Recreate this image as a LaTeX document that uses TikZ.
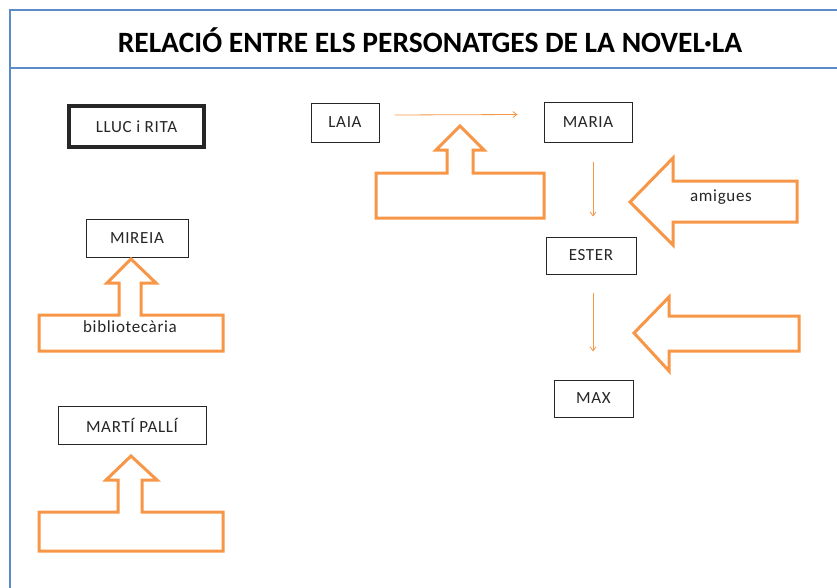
\documentclass[tikz,border=0pt]{standalone}
\usepackage{fontspec}
\setmainfont{Carlito}
\newfontfamily\boxfont[LetterSpace=4]{Carlito}
\usetikzlibrary{arrows.meta,calc}
\definecolor{frameblue}{HTML}{5B8BC9}
\definecolor{orng}{HTML}{F79646}
\definecolor{boxgray}{HTML}{262626}
\tikzset{
  lbl/.style={font=\boxfont\fontsize{17}{19}\selectfont,text=black!85},
  person/.style={draw=boxgray,line width=1pt,fill=white,inner sep=0pt,lbl},
  callout/.style={draw=orng,line width=3pt,line join=miter,fill=white},
  link/.style={draw=orng,line width=0.8pt,-{Straight Barb[length=4pt,width=6pt]}},
  frame/.style={draw=frameblue,line width=2pt}
}
\begin{document}
\begin{tikzpicture}[x=1pt,y=-1pt]
\useasboundingbox (0,0) rectangle (837,587);
% frame
\draw[frame] (840,10) -- (10,10) -- (10,590);
\draw[frame] (10,68) -- (840,68);
\node[font=\fontsize{29.5}{32}\bfseries\selectfont] (title) at (430,40) {RELACIÓ ENTRE ELS PERSONATGES DE LA NOVEL·LA};
% left column
\node[person,line width=4pt,minimum width=135pt,minimum height=41pt] (lluc) at (136.5,126.5) {LLUC i RITA};
\node[person,minimum width=102pt,minimum height=38pt] (mireia) at (137,238) {MIREIA};
\draw[callout] (39,315) -- (119,315) -- (119,283) -- (107,283) -- (131,259) -- (156,283) -- (141,283) -- (141,315) -- (223,315) -- (223,351) -- (39,351) -- cycle;
\node[lbl] (biblio) at (130,327) {bibliotecària};
\node[person,minimum width=148pt,minimum height=38pt] (marti) at (132,425) {MARTÍ PALLÍ};
\draw[callout] (39,512) -- (118,512) -- (118,480) -- (106,480) -- (131,456) -- (157,480) -- (142,480) -- (142,512) -- (223,512) -- (223,551) -- (39,551) -- cycle;
% right part
\node[person,minimum width=68pt,minimum height=39pt] (laia) at (345,122.5) {LAIA};
\node[person,minimum width=88pt,minimum height=40pt] (maria) at (588,122) {MARIA};
\node[person,minimum width=90pt,minimum height=37pt] (ester) at (591,255.5) {ESTER};
\node[person,minimum width=79pt,minimum height=37pt] (max) at (593.5,398.5) {MAX};
\draw[callout] (376,173) -- (447,173) -- (447,150) -- (436,150) -- (460,126) -- (484,150) -- (473,150) -- (473,173) -- (544,173) -- (544,218) -- (376,218) -- cycle;
\draw[callout] (630,202) -- (673,158) -- (673,181) -- (797,181) -- (797,222) -- (673,222) -- (673,245) -- cycle;
\node[lbl] (amigues) at (721,197) {amigues};
\draw[callout] (634,333) -- (669,297) -- (669,316) -- (799,316) -- (799,351) -- (669,351) -- (669,371) -- cycle;
% connectors
\draw[link] ($(laia.east)+(15,-7.5)$) -- ($(maria.west)+(-26,-7.5)$);
\draw[link] ($(maria.south)+(5,19)$) -- ($(ester.north)+(2,-20)$);
\draw[link] ($(ester.south)+(2,18)$) -- ($(max.north)+(-0.5,-28)$);
\end{tikzpicture}
\end{document}
